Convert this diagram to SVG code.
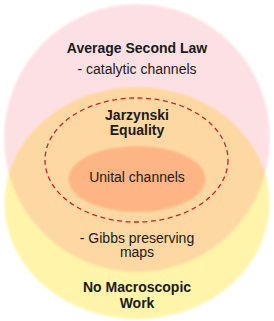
<svg xmlns="http://www.w3.org/2000/svg" width="274" height="321" viewBox="0 0 274 321">
  <defs>
    <filter id="soft" x="-10%" y="-10%" width="120%" height="120%">
      <feGaussianBlur stdDeviation="1.2"/>
    </filter>
    <style>
      text { font-family: "Liberation Sans", Arial, sans-serif; fill: #1a1a1a; text-anchor: middle; }
      .b { font-weight: bold; font-size: 14px; }
      .r { font-size: 14px; }
      .dash { fill: none; stroke: #c9222c; stroke-width: 1.3; stroke-dasharray: 5 3.5; }
    </style>
  </defs>
  <rect width="274" height="321" fill="#ffffff"/>
  <g id="no-macroscopic-work">
    <ellipse cx="137" cy="203" rx="132.5" ry="116" fill="#fff4aa" filter="url(#soft)"/>
  </g>
  <g id="average-second-law">
    <ellipse cx="137" cy="138" rx="133" ry="134" fill="#f7838f" opacity="0.24" filter="url(#soft)"/>
  </g>
  <g id="jarzynski-equality">
    <ellipse class="dash" cx="136.5" cy="160" rx="91.5" ry="62"/>
  </g>
  <g id="unital-channels">
    <ellipse cx="137" cy="179" rx="68.5" ry="33" fill="#fdb585" filter="url(#soft)"/>
  </g>
  <g id="labels">
    <text class="b" x="137" y="53">Average Second Law</text>
    <text class="r" x="137" y="74">- catalytic channels</text>
    <text class="b" x="137" y="119.5">Jarzynski</text>
    <text class="b" x="137" y="135">Equality</text>
    <text class="r" x="137" y="182">Unital channels</text>
    <text class="r" x="137" y="242.5">- Gibbs preserving</text>
    <text class="r" x="137" y="257">maps</text>
    <text class="b" x="137" y="291.5">No Macroscopic</text>
    <text class="b" x="137" y="307.5">Work</text>
  </g>
  <g id="connectors"/>
</svg>
